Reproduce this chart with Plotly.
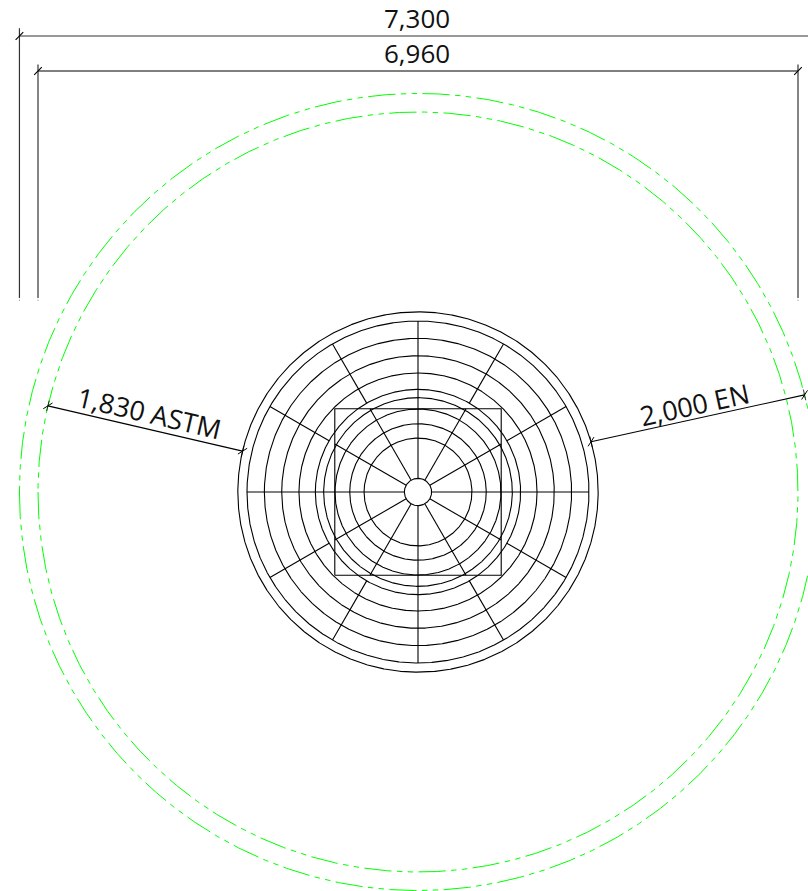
import numpy as np
import plotly.graph_objects as go

# Drawing values, millimetres
sector_rings = [1566, 1407, 1248, 1090, 940]
inner_rings = [864, 760, 625, 494]
outer_ring = 1650
hub_ring = 125
column_side = 1524
clearance_rings = [3480, 3650]
spoke_angles = [0, 30, 60, 90, 120, 150, 180, 210, 240, 270, 300, 330]
dim_labels = ["7,300", "6,960", "1,830 ASTM", "2,000 EN"]

# page mapping
W, H = 808, 891
CX, CY = 418, 492
S = 380 / 3480  # px per mm


def circle(r):
    t = np.radians(np.arange(180, 540.1, 0.25))
    return r * np.cos(t), r * np.sin(t)


fig = go.Figure()


def seg(xs, ys, color="#000000", width=1.0, dash="solid"):
    fig.add_trace(go.Scatter(x=list(xs), y=list(ys), mode="lines", hoverinfo="skip",
                             showlegend=False, line=dict(color=color, width=width, dash=dash)))


for r in [outer_ring] + sector_rings + inner_rings + [hub_ring]:
    seg(*circle(r), width=1.1)

for r in clearance_rings:
    seg(*circle(r), color="#00ff00", width=1.0, dash="27.3px,5.4px,5.4px,5.4px,5.4px,5.4px")

h = column_side / 2
seg([-h, h, h, -h, -h], [-h, -h, h, h, -h], width=1.1)

for a in spoke_angles:
    c, s = np.cos(np.radians(a)), np.sin(np.radians(a))
    if a % 90 == 0:
        seg([hub_ring * c, sector_rings[0] * c], [hub_ring * s, sector_rings[0] * s], width=1.1)
    else:
        clip = h / max(abs(c), abs(s))
        seg([hub_ring * c, clip * c], [hub_ring * s, clip * s], width=1.1)
        seg([sector_rings[-1] * c, sector_rings[0] * c], [sector_rings[-1] * s, sector_rings[0] * s], width=1.1)


def tick(x, y, ang):
    """oblique architectural tick at a dimension end"""
    L = 50
    c, s = np.cos(np.radians(ang + 45)), np.sin(np.radians(ang + 45))
    seg([x - L * c, x + L * c], [y - L * s, y + L * s], width=1.0)
    c2, s2 = np.cos(np.radians(ang + 90)), np.sin(np.radians(ang + 90))
    seg([x - L * c2, x + L * c2], [y - L * s2, y + L * s2], width=0.8)


# horizontal dimensions with extension lines
y_300 = (CY - 36) / S
y_960 = (CY - 71) / S
ext_end = (CY - 298) / S
R0, R1 = clearance_rings[1], clearance_rings[0]
seg([-R0, R0], [y_300, y_300], color="#333333", width=1.2)
seg([-R1, R1], [y_960, y_960], width=1.0)
seg([-R0, -R0], [y_300 + 70, ext_end], color="#333333", width=1.2)
seg([-R1, -R1], [y_960 + 60, ext_end], color="#333333", width=1.2)
seg([-R0, -R0], [ext_end - 25, ext_end - 15], color="#888888", width=1)
seg([-R1, -R1], [ext_end - 25, ext_end - 15], color="#888888", width=1)
seg([R1, R1], [y_960 + 60, ext_end], color="#333333", width=1.2)
seg([R1, R1], [ext_end - 25, ext_end - 15], color="#888888", width=1)
for x, y in [(-R0, y_300), (-R1, y_960), (R1, y_960), (R0, y_300)]:
    seg([x - 35, x + 35], [y - 35, y + 35], width=1.1)

# radial dimensions
a_astm = np.radians(180 - 13.1)
ax0, ay0 = outer_ring * np.cos(a_astm), outer_ring * np.sin(a_astm)
ax1, ay1 = R1 * np.cos(a_astm), R1 * np.sin(a_astm)
seg([ax0, ax1], [ay0, ay1], width=1.1)
tick(ax0, ay0, 180 - 13.1)
tick(ax1, ay1, 180 - 13.1)

ex0, ey0 = outer_ring * np.cos(np.radians(16.2)), outer_ring * np.sin(np.radians(16.2))
ex1, ey1 = R0 * np.cos(np.radians(14.1)), R0 * np.sin(np.radians(14.1))
seg([ex0, ex1], [ey0, ey1], width=1.1)
tick(ex0, ey0, 12.4)
tick(ex1, ey1, 12.4)


def label(px, py, text, angle=0, size=26):
    fig.add_annotation(x=(px - CX) / S, y=(CY - py) / S, text=text, showarrow=False,
                       textangle=angle, xref="x", yref="y",
                       font=dict(family="Open Sans", size=size, color="#111111"))


label(417, 18, dim_labels[0])
label(417, 53, dim_labels[1])
label(149, 412.5, dim_labels[2], 13.1, 27)
label(694, 404.5, dim_labels[3], -12.4, 27)

fig.update_layout(
    width=W, height=H, autosize=False,
    margin=dict(l=0, r=0, t=0, b=0, pad=0),
    paper_bgcolor="white", plot_bgcolor="white", showlegend=False,
    xaxis=dict(range=[-CX / S, (W - CX) / S], visible=False, fixedrange=True),
    yaxis=dict(range=[(CY - H) / S, CY / S], visible=False, fixedrange=True),
)
fig.write_html("out.html", config={"displayModeBar": False},
               post_script="document.body.style.margin='0';document.body.style.overflow='hidden';")
